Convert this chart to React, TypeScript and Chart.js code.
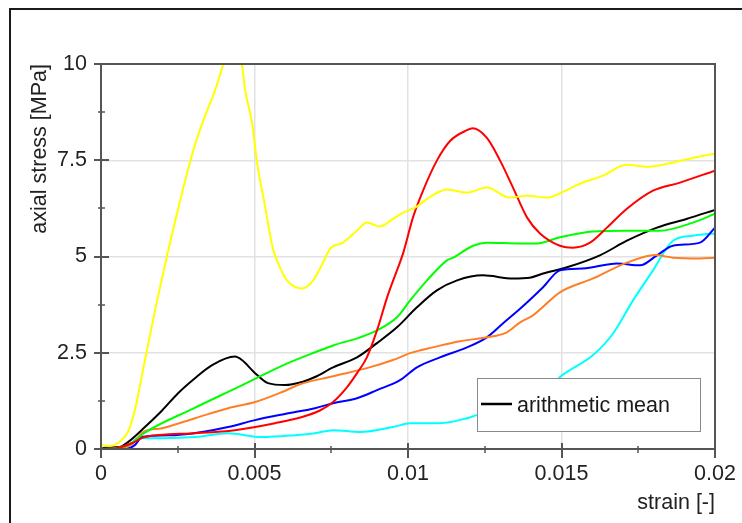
import React, { useEffect, useRef } from 'react';
import { Chart, registerables } from 'chart.js';

Chart.register(...registerables);

// ---- data (strain [-], axial stress [MPa]) ----
const yellowStrain = [0, 0.0003, 0.00055, 0.00075, 0.00088, 0.0011, 0.00143, 0.0018, 0.00213, 0.00241, 0.00267, 0.0029, 0.00306, 0.00339, 0.00371, 0.00397, 0.0042, 0.0044, 0.00459, 0.00469, 0.00492, 0.00508, 0.00534, 0.0056, 0.00573, 0.00606, 0.00655, 0.00691, 0.00723, 0.00746, 0.00788, 0.00834, 0.00866, 0.00909, 0.00951, 0.00984, 0.01023, 0.01078, 0.01127, 0.01192, 0.01257, 0.01332, 0.01388, 0.01453, 0.01505, 0.0156, 0.01635, 0.01713, 0.01779, 0.01844, 0.01928, 0.02];
const yellowStress = [0.1, 0.08, 0.15, 0.3, 0.45, 1.0, 2.3, 3.75, 4.95, 5.9, 6.75, 7.45, 7.9, 8.65, 9.3, 9.95, 10.4, 10.4, 10.0, 9.35, 8.47, 7.46, 6.32, 5.2, 4.9, 4.38, 4.17, 4.38, 4.84, 5.2, 5.36, 5.67, 5.88, 5.78, 5.98, 6.14, 6.27, 6.58, 6.74, 6.66, 6.79, 6.53, 6.58, 6.53, 6.68, 6.89, 7.1, 7.38, 7.33, 7.41, 7.56, 7.67];

const redStrain = [0, 0.0005, 0.001, 0.00143, 0.00306, 0.00436, 0.00567, 0.00655, 0.00713, 0.00756, 0.00801, 0.00834, 0.00866, 0.00899, 0.00932, 0.00964, 0.00984, 0.01016, 0.01049, 0.01094, 0.01137, 0.01192, 0.0121, 0.01257, 0.013, 0.01342, 0.01388, 0.0143, 0.01495, 0.01537, 0.01593, 0.01648, 0.01713, 0.01798, 0.01886, 0.02];
const redStress = [0, 0.02, 0.15, 0.31, 0.41, 0.49, 0.67, 0.83, 1.0, 1.22, 1.6, 1.97, 2.38, 3.08, 3.94, 4.64, 5.08, 6.01, 6.71, 7.49, 8.0, 8.28, 8.33, 8.08, 7.49, 6.79, 6.01, 5.6, 5.28, 5.23, 5.36, 5.75, 6.24, 6.71, 6.92, 7.23];

const greenStrain = [0, 0.0005, 0.001, 0.0014, 0.003, 0.0045, 0.006, 0.007, 0.00756, 0.00844, 0.00899, 0.00964, 0.01007, 0.01062, 0.01127, 0.01147, 0.01212, 0.01257, 0.01365, 0.0142, 0.01495, 0.01603, 0.01713, 0.01821, 0.01928, 0.02];
const greenStress = [0, 0.02, 0.15, 0.41, 1.05, 1.62, 2.2, 2.52, 2.69, 2.9, 3.08, 3.42, 3.86, 4.38, 4.9, 4.97, 5.28, 5.36, 5.34, 5.34, 5.5, 5.65, 5.67, 5.67, 5.88, 6.11];

const orangeStrain = [0, 0.0005, 0.001, 0.0012, 0.0014, 0.00199, 0.00306, 0.00414, 0.00502, 0.0059, 0.00648, 0.00756, 0.00866, 0.00951, 0.01007, 0.01081, 0.01169, 0.01257, 0.01322, 0.01365, 0.01407, 0.01495, 0.01603, 0.01713, 0.01805, 0.01863, 0.01951, 0.02];
const orangeStress = [0, 0.02, 0.12, 0.3, 0.45, 0.54, 0.8, 1.06, 1.22, 1.48, 1.68, 1.89, 2.1, 2.31, 2.49, 2.64, 2.8, 2.9, 3.03, 3.29, 3.47, 4.07, 4.43, 4.84, 5.04, 4.97, 4.95, 4.97];

const blueStrain = [0, 0.0008, 0.0011, 0.00134, 0.00241, 0.00329, 0.00414, 0.00502, 0.00599, 0.00697, 0.00756, 0.00834, 0.00899, 0.00974, 0.01029, 0.01104, 0.01192, 0.01257, 0.01309, 0.01365, 0.0144, 0.01495, 0.0157, 0.01681, 0.01756, 0.01811, 0.01863, 0.01951, 0.02];
const blueStress = [0, 0, 0.1, 0.31, 0.36, 0.44, 0.57, 0.75, 0.91, 1.06, 1.19, 1.32, 1.53, 1.79, 2.12, 2.38, 2.64, 2.9, 3.26, 3.64, 4.2, 4.64, 4.69, 4.82, 4.77, 5.03, 5.28, 5.36, 5.75];

const cyanStrain = [0, 0.0008, 0.00088, 0.0012, 0.00199, 0.00306, 0.00414, 0.00524, 0.00632, 0.00697, 0.00756, 0.00844, 0.00951, 0.01007, 0.01104, 0.01192, 0.01225, 0.013, 0.01397, 0.0145, 0.01495, 0.01603, 0.01668, 0.01733, 0.01798, 0.01863, 0.01928, 0.02];
const cyanStress = [0, 0, 0.05, 0.28, 0.28, 0.31, 0.41, 0.31, 0.36, 0.41, 0.49, 0.44, 0.57, 0.67, 0.67, 0.8, 0.88, 0.97, 1.2, 1.5, 1.87, 2.44, 3.0, 3.86, 4.64, 5.41, 5.54, 5.6];

const meanStrain = [0, 0.00013, 0.0006, 0.00088, 0.00143, 0.00199, 0.00251, 0.00306, 0.00362, 0.00436, 0.00459, 0.00502, 0.00544, 0.00599, 0.00655, 0.00697, 0.00756, 0.00834, 0.00899, 0.00964, 0.01029, 0.01094, 0.0116, 0.01244, 0.01342, 0.01397, 0.0144, 0.01518, 0.01625, 0.01713, 0.01811, 0.01909, 0.02];
const meanStress = [0, 0.03, 0.05, 0.18, 0.57, 1.0, 1.45, 1.84, 2.18, 2.4, 2.31, 1.97, 1.71, 1.66, 1.74, 1.87, 2.12, 2.38, 2.75, 3.16, 3.68, 4.12, 4.38, 4.51, 4.43, 4.45, 4.56, 4.72, 5.03, 5.41, 5.75, 5.98, 6.21];

const xTickStep = 0.0025;
const yTickStep = 1.25;
const xLabel = 'strain [-]';
const yLabel = 'axial stress [MPa]';
const legendLabel = 'arithmetic mean';

const FONT = "'Liberation Sans', Arial, sans-serif";
const FS = 21.5;

const pts = (xs: number[], ys: number[]) => xs.map((x, i) => ({ x, y: ys[i] }));
const fmt = (v: number) => String(parseFloat(Number(v).toFixed(6)));

const decorPlugin = {
  id: 'decor',
  afterDatasetsDraw(chart: any) {
    const { ctx, chartArea: a, scales } = chart;
    ctx.save();
    // plot border
    ctx.strokeStyle = '#555555';
    ctx.lineWidth = 2;
    ctx.strokeRect(a.left, a.top, a.right - a.left, a.bottom - a.top);
    // tick marks
    const xs = scales.x;
    const ys = scales.y;
    xs.ticks.forEach((t: any, i: number) => {
      const p = Math.round(xs.getPixelForValue(t.value));
      const major = i % 2 === 0;
      ctx.lineWidth = major ? 2 : 1.5;
      ctx.beginPath();
      ctx.moveTo(p, a.bottom - (major ? 6 : 3));
      ctx.lineTo(p, a.bottom + (major ? 9 : 4));
      ctx.stroke();
    });
    ys.ticks.forEach((t: any, i: number) => {
      const p = Math.round(ys.getPixelForValue(t.value));
      const major = i % 2 === 0;
      ctx.lineWidth = major ? 2 : 1.5;
      ctx.beginPath();
      ctx.moveTo(a.left - (major ? 7 : 3), p);
      ctx.lineTo(a.left + (major ? 8 : 4), p);
      ctx.stroke();
    });
    // legend box
    const lx = a.right - 238;
    const ly = a.bottom - 71;
    ctx.fillStyle = '#ffffff';
    ctx.fillRect(lx, ly, 223, 53);
    ctx.strokeStyle = '#8a8a8a';
    ctx.lineWidth = 1;
    ctx.strokeRect(lx + 0.5, ly + 0.5, 223, 53);
    ctx.strokeStyle = '#000000';
    ctx.lineWidth = 2.5;
    ctx.beginPath();
    ctx.moveTo(lx + 4, ly + 26);
    ctx.lineTo(lx + 35, ly + 26);
    ctx.stroke();
    ctx.fillStyle = '#1a1a1a';
    ctx.font = `${FS}px ${FONT}`;
    ctx.textBaseline = 'alphabetic';
    ctx.textAlign = 'left';
    ctx.fillText(legendLabel, lx + 40, ly + 34);
    // outer frame
    ctx.strokeStyle = '#1a1a1a';
    ctx.lineWidth = 2;
    ctx.beginPath();
    ctx.moveTo(10, chart.height);
    ctx.lineTo(10, 9);
    ctx.lineTo(chart.width, 9);
    ctx.stroke();
    ctx.restore();
  },
};

export default function App() {
  const ref = useRef<HTMLCanvasElement | null>(null);
  useEffect(() => {
    if (!ref.current) return;
    const mk = (label: string, xs: number[], ys: number[], color: string) => ({
      label,
      data: pts(xs, ys),
      borderColor: color,
      backgroundColor: color,
      borderWidth: 2,
      pointRadius: 0,
      cubicInterpolationMode: 'monotone' as const,
      fill: false,
      clip: 0,
    });
    const chart = new Chart(ref.current, {
      type: 'line',
      data: {
        datasets: [
          mk('specimen 1', yellowStrain, yellowStress, '#ffff00'),
          mk('specimen 2', redStrain, redStress, '#ff0000'),
          mk('specimen 3', greenStrain, greenStress, '#00ff00'),
          mk('specimen 4', orangeStrain, orangeStress, '#ff7f27'),
          mk('specimen 5', blueStrain, blueStress, '#0000ff'),
          mk('specimen 6', cyanStrain, cyanStress, '#00ffff'),
          mk(legendLabel, meanStrain, meanStress, '#000000'),
        ],
      },
      options: {
        animation: false,
        responsive: false,
        devicePixelRatio: 1,
        layout: { padding: { left: 0, top: 64, right: 27, bottom: 0 } },
        plugins: { legend: { display: false }, tooltip: { enabled: false } },
        scales: {
          x: {
            type: 'linear',
            min: 0,
            max: 0.02,
            afterFit: (s: any) => { s.height = 74; s.paddingLeft = 0; s.paddingRight = 0; },
            ticks: {
              stepSize: xTickStep,
              autoSkip: false,
              maxRotation: 0,
              padding: 12,
              color: '#222222',
              font: { family: FONT, size: FS },
              callback: (v: any, i: number) => (i % 2 === 0 ? fmt(v) : ''),
            },
            grid: {
              drawTicks: false,
              lineWidth: 1.5,
              color: (c: any) => (c.index % 2 === 0 ? '#e2e2e2' : 'rgba(0,0,0,0)'),
            },
            border: { display: false },
            title: {
              display: true,
              text: xLabel,
              align: 'end',
              color: '#222222',
              font: { family: FONT, size: FS },
              padding: { top: 0, bottom: 7 },
            },
          },
          y: {
            type: 'linear',
            min: 0,
            max: 10,
            afterFit: (s: any) => { s.width = 101; s.paddingTop = 0; s.paddingBottom = 0; },
            ticks: {
              stepSize: yTickStep,
              autoSkip: false,
              padding: 14,
              color: '#222222',
              font: { family: FONT, size: FS },
              callback: (v: any, i: number) => (i % 2 === 0 ? fmt(v) : ''),
            },
            grid: {
              drawTicks: false,
              lineWidth: 1.5,
              color: (c: any) => (c.index % 2 === 0 ? '#e2e2e2' : 'rgba(0,0,0,0)'),
            },
            border: { display: false },
            title: {
              display: true,
              text: yLabel,
              align: 'end',
              color: '#222222',
              font: { family: FONT, size: FS },
              padding: { top: 27, bottom: 0 },
            },
          },
        },
      },
      plugins: [decorPlugin],
    } as any);
    return () => chart.destroy();
  }, []);
  return (
    <div style={{ position: 'fixed', left: 0, top: 0, width: 742, height: 523, background: '#fff' }}>
      <canvas ref={ref} width={742} height={523} style={{ display: 'block' }} />
    </div>
  );
}
